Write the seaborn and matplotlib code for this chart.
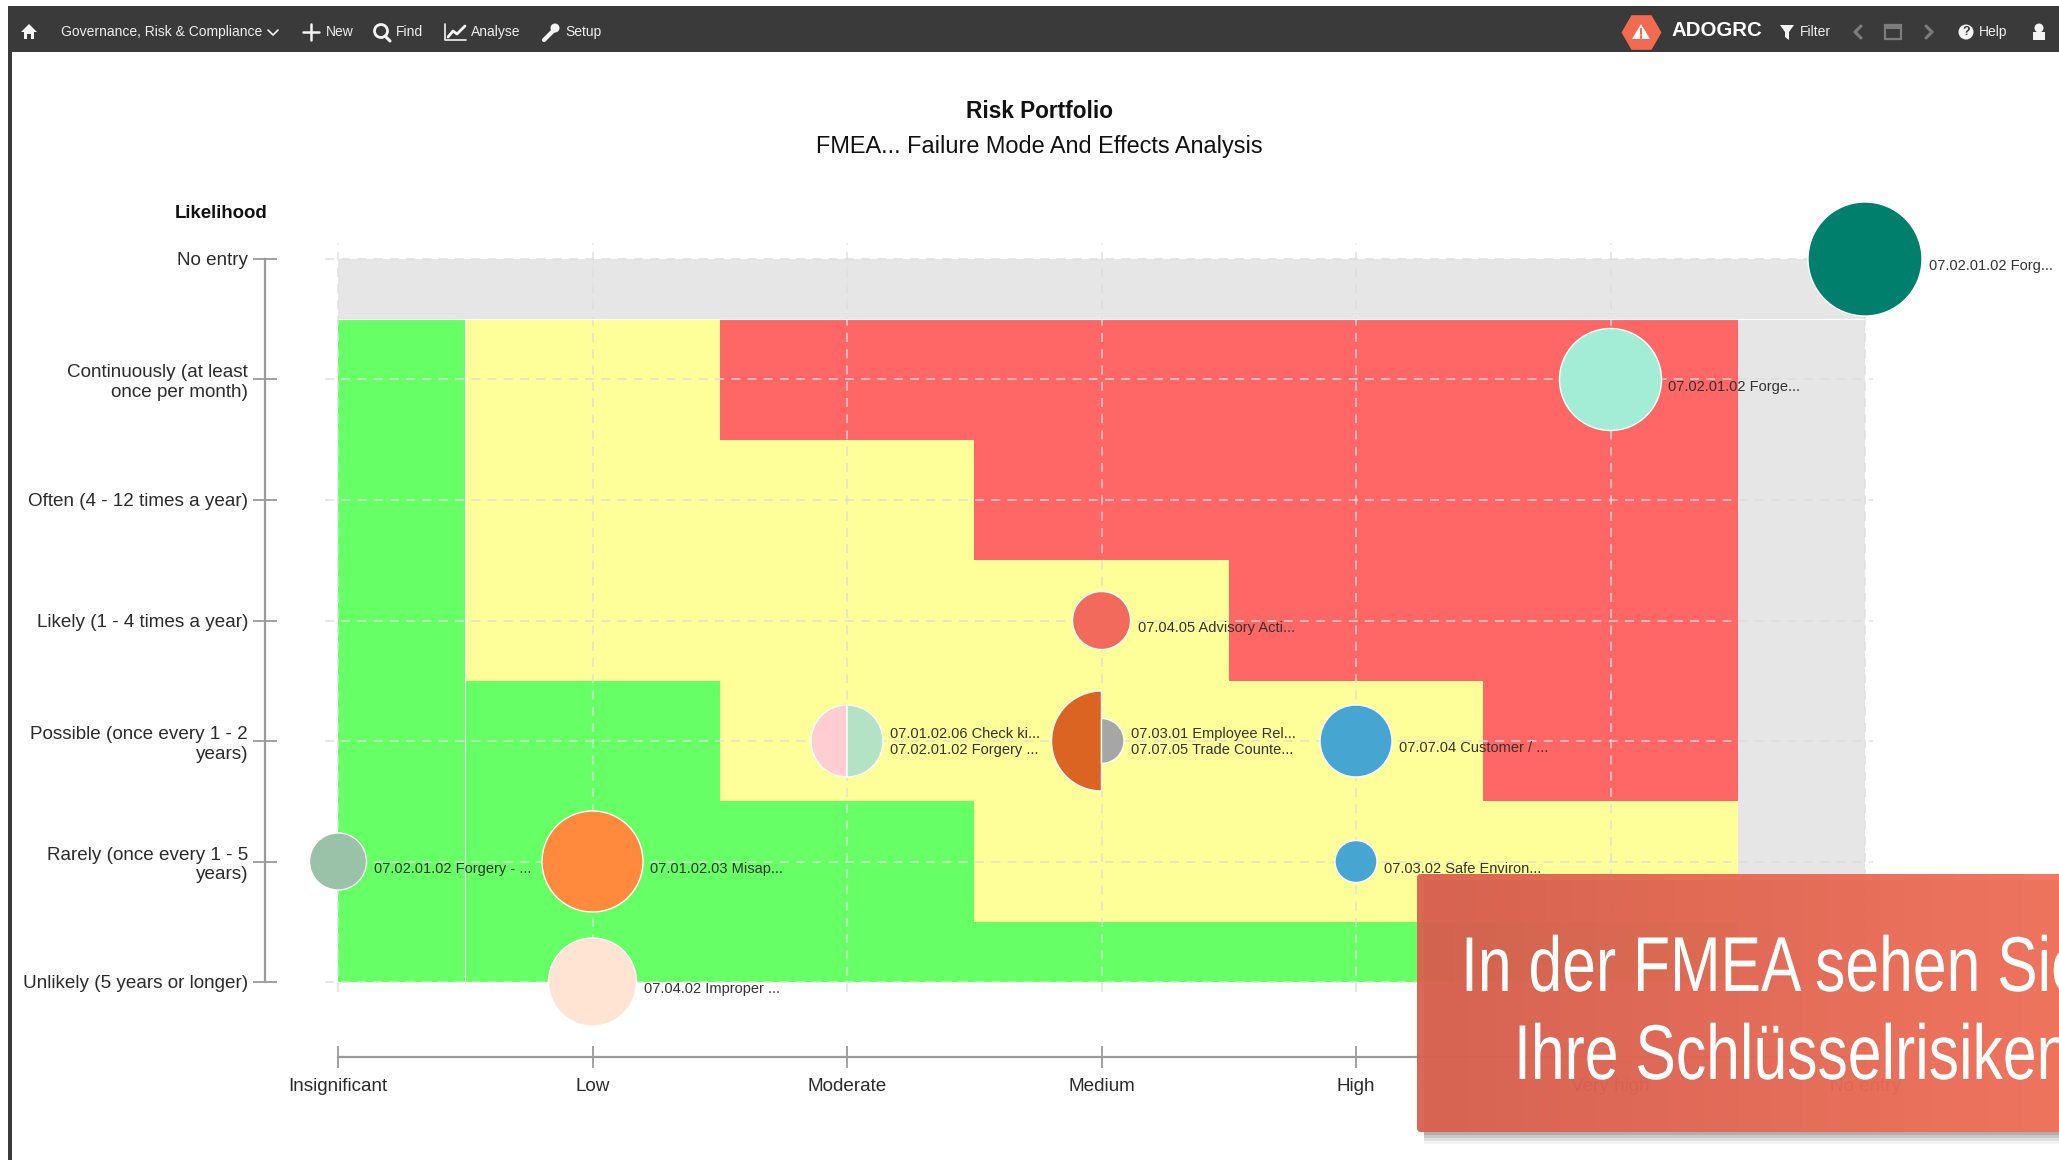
import matplotlib

matplotlib.use('Agg')
import matplotlib.pyplot as plt
import numpy as np
import pandas as pd
import seaborn as sns
from matplotlib.colors import LinearSegmentedColormap, ListedColormap
from matplotlib.markers import MarkerStyle
from matplotlib.patches import Circle, FancyBboxPatch, Polygon, Rectangle
from matplotlib.patheffects import AbstractPathEffect
from matplotlib.transforms import Affine2D

impact_names = ['Insignificant', 'Low', 'Moderate', 'Medium', 'High', 'Very high', 'No entry']
likelihood_names = ['Unlikely (5 years or longer)', 'Rarely (once every 1 - 5\nyears)',
                    'Possible (once every 1 - 2\nyears)', 'Likely (1 - 4 times a year)',
                    'Often (4 - 12 times a year)', 'Continuously (at least\nonce per month)',
                    'No entry']

# risk zones, bottom row first: 0 none, 1 green, 2 yellow, 3 red
zones = [[1, 1, 1, 1, 1, 1, 0],
         [1, 1, 1, 2, 2, 2, 0],
         [1, 1, 2, 2, 2, 3, 0],
         [1, 2, 2, 2, 3, 3, 0],
         [1, 2, 2, 3, 3, 3, 0],
         [1, 2, 3, 3, 3, 3, 0],
         [0, 0, 0, 0, 0, 0, 0]]
zone_span = [1, 2, 2, 2, 2, 2, 1]  # half steps covered by each band
zone_colors = ['#e6e6e6', '#66ff66', '#ffff99', '#ff6666']

risk_impact = [6, 5, 3, 2, 2, 3, 3, 4, 0, 1, 4, 1]
risk_likelihood = [6, 5, 3, 2, 2, 2, 2, 2, 1, 1, 1, 0]
risk_diam = [114, 102, 58, 72, 72, 100, 45, 72, 57, 101, 42, 88]
risk_half = ['full', 'full', 'full', 'left', 'right', 'left', 'right', 'full', 'full', 'full', 'full', 'full']
risk_color = ['#007f6d', '#a3edd6', '#f26a5c', '#ffcdd2', '#b4e2c4', '#dc6423', '#a6a6a6',
              '#46a6d1', '#99c2a9', '#ff8a3d', '#46a6d1', '#ffe4d4']
risk_label = ['07.02.01.02 Forg...', '07.02.01.02 Forge...', '07.04.05 Advisory Acti...',
              '07.01.02.06 Check ki...', '07.02.01.02 Forgery ...', '07.03.01 Employee Rel...',
              '07.07.05 Trade Counte...', '07.07.04 Customer / ...', '07.02.01.02 Forgery - ...',
              '07.01.02.03 Misap...', '07.03.02 Safe Environ...', '07.04.02 Improper ...']

W, H = 2059, 1160
PT = 0.72  # points per pixel at dpi 100


class Squeeze(AbstractPathEffect):
    # narrows a text around its left edge, no condensed font is installed
    def __init__(self, x0, k):
        super().__init__()
        self.x0 = x0
        self.k = k

    def draw_path(self, renderer, gc, tpath, affine, rgbFace=None):
        squeeze = Affine2D().translate(-self.x0, 0).scale(self.k, 1).translate(self.x0, 0)
        renderer.draw_path(gc, tpath, affine + squeeze, rgbFace)


sns.set_theme(style='white')
plt.rcParams['font.family'] = ['Liberation Sans', 'DejaVu Sans']
TEXT = '#2b2b2b'
AXIS = '#9a9a9a'

fig = plt.figure(figsize=(W / 100, H / 100), dpi=100, facecolor='white')
rect = [338 / W, (H - 982) / H, (1865 - 338) / W, (982 - 259) / H]

# coloured zones
hax = fig.add_axes(rect, zorder=0)
grid = np.repeat(np.repeat(np.array(zones), zone_span, axis=0), zone_span, axis=1)
sns.heatmap(grid, ax=hax, cmap=ListedColormap(zone_colors), vmin=-0.5, vmax=3.5, cbar=False)
hax.set_ylim(0, grid.shape[0])
hax.axis('off')

# bubbles and axes
ax = fig.add_axes(rect, zorder=1)
ax.patch.set_alpha(0)
ax.set_xlim(0, 6)
ax.set_ylim(0, 6)
ax.vlines(range(7), -0.08, 6.13, color='#dddddd', alpha=0.75, lw=1.3, ls=(0, (5, 4)), clip_on=False, zorder=1)
ax.hlines(range(7), -0.05, 6.03, color='#dddddd', alpha=0.75, lw=1.3, ls=(0, (5, 4)), clip_on=False, zorder=1)
ax.vlines(0.5, 0, 5.5, color='white', lw=0.8, zorder=1)
ax.hlines(5.5, 0, 6, color='white', lw=0.8, zorder=1)

df = pd.DataFrame({'impact': risk_impact, 'likelihood': risk_likelihood, 'diam': risk_diam,
                   'half': risk_half, 'label': risk_label})
df['area'] = (df['diam'] * PT) ** 2
sns.scatterplot(data=df, x='impact', y='likelihood', hue='label',
                palette=dict(zip(risk_label, risk_color)),
                size='area', sizes=(df['area'].min(), df['area'].max()),
                style='half',
                markers={'full': 'o', 'left': MarkerStyle('o', fillstyle='left'),
                         'right': MarkerStyle('o', fillstyle='right')},
                edgecolor='white', linewidth=1.0, legend=False, clip_on=False, zorder=3, ax=ax)

for (xv, yv), cell in df.groupby(['impact', 'likelihood'], sort=False):
    radius = cell['diam'].iloc[-1] / 2
    shifts = [7, -9] if len(cell) == 2 else [-7.5]
    for label, dy in zip(cell['label'], shifts):
        ax.annotate(label, (xv, yv), xytext=((radius + 7) * PT, dy * PT), textcoords='offset points',
                    fontsize=10.5, color='#333333', va='center', ha='left',
                    annotation_clip=False, zorder=4)

ax.set_xlabel('')
ax.set_ylabel('')
ax.set_xticks(range(7), impact_names)
ax.set_yticks(range(7), likelihood_names, ha='right', ma='right', linespacing=0.82)
ax.tick_params(axis='x', bottom=True, direction='inout', length=22 * PT, width=1.3, color=AXIS,
               labelsize=13.6, labelcolor=TEXT, pad=10 * PT)
ax.tick_params(axis='y', left=True, direction='inout', length=24 * PT, width=1.3, color=AXIS,
               labelsize=13.6, labelcolor=TEXT, pad=5 * PT)
for side in ['top', 'right']:
    ax.spines[side].set_visible(False)
ax.spines['left'].set_position(('outward', (338 - 265) * PT))
ax.spines['bottom'].set_position(('outward', (1057 - 982) * PT))
for side in ['left', 'bottom']:
    ax.spines[side].set_color(AXIS)
    ax.spines[side].set_linewidth(1.6)
    ax.spines[side].set_bounds(0, 6)

# page chrome, in pixel coordinates
top = fig.add_axes([0, 0, 1, 1], zorder=5)
top.patch.set_alpha(0)
top.axis('off')

top.text(1039, 112, 'Risk Portfolio', fontsize=16.3, fontweight='bold', color='#111111', ha='center', va='center')
top.text(1039, 147, 'FMEA... Failure Mode And Effects Analysis', fontsize=16.9, color='#111111', ha='center', va='center')
top.text(221, 213, 'Likelihood', fontsize=13.4, fontweight='bold', color='#111111', ha='center', va='center')

top.add_patch(Rectangle((8, 6), W, 46, color='#3a3a3a', lw=0))
top.add_patch(Rectangle((8, 6), 4, H, color='#3a3a3a', lw=0))
for px, txt in [(61, 'Governance, Risk & Compliance'), (326, 'New'), (396, 'Find'),
                (471, 'Analyse'), (565, 'Setup'), (1800, 'Filter'), (1979, 'Help')]:
    top.text(px, 32, txt, fontsize=10, color='#eeeeee', va='center')

# toolbar icons
ICON = '#f4f4f4'
DIM = '#7c7c7c'
top.add_patch(Polygon([(21, 32), (29, 24), (37, 32), (34, 32), (34, 39), (31, 39), (31, 34), (27, 34),
                       (27, 39), (24, 39), (24, 32)], color=ICON, lw=0))
top.plot([268, 273, 278], [30, 35, 30], color=ICON, lw=1.2)
top.plot([303, 319], [32, 32], color=ICON, lw=1.8)
top.plot([311, 311], [24, 40], color=ICON, lw=1.8)
top.add_patch(Circle((381, 31), 6.5, fill=False, ec=ICON, lw=2))
top.plot([385, 390], [36, 41], color=ICON, lw=2.2)
top.plot([445, 445, 466], [24, 40, 40], color=ICON, lw=1.2)
top.plot([448, 453, 457, 465], [37, 31, 34, 26], color=ICON, lw=2)
top.plot([544, 554], [40, 30], color=ICON, lw=3)
top.add_patch(Circle((555, 28), 4.5, color=ICON, lw=0))
top.add_patch(Polygon([(1780, 25), (1794, 25), (1789, 32), (1789, 40), (1785, 37), (1785, 32)], color=ICON, lw=0))
top.plot([1861, 1855, 1861], [26, 32, 38], color=DIM, lw=2.2)
top.plot([1926, 1932, 1926], [26, 32, 38], color=DIM, lw=2.2)
top.add_patch(Rectangle((1885, 25), 16, 14, fill=False, ec=DIM, lw=1.6))
top.add_patch(Rectangle((1885, 25), 16, 4, color=DIM, lw=0))
top.add_patch(Circle((1966, 32), 7.5, color=ICON, lw=0))
top.text(1966, 32, '?', fontsize=9, fontweight='bold', color='#3a3a3a', ha='center', va='center')
top.add_patch(Circle((2039, 28), 4.5, color=ICON, lw=0))
top.add_patch(Rectangle((2033, 32), 12, 8, color=ICON, lw=0))

# logo
top.scatter([1641], [32], marker='H', s=(40 * PT) ** 2, color='#f26a50', lw=0)
top.add_patch(Polygon([(1641, 24), (1650, 39), (1632, 39)], color='white', lw=0))
top.plot([1641, 1641], [29, 34], color='#f26a50', lw=1.5)
top.plot([1641, 1641], [35.5, 37.5], color='#f26a50', lw=1.5)
top.text(1671, 31, 'ADOGRC', fontsize=14.7, fontweight='bold', color='white', va='center')

# callout box with shadow
for grow, alpha in [(12, 0.05), (9, 0.08), (6, 0.1), (3, 0.12)]:
    top.add_patch(Rectangle((1424, 880), W, 252 + grow, color='black', alpha=alpha, lw=0))
ramp = LinearSegmentedColormap.from_list('box', ['#d9604f', '#f2725a'])
img = top.imshow(np.linspace(0, 1, 256).reshape(1, -1), cmap=ramp, extent=(1417, 2059, 1132, 874),
                 aspect='auto', alpha=0.96, zorder=2)
img.set_clip_path(FancyBboxPatch((1417, 874), 800, 258, boxstyle='round,pad=0,rounding_size=4',
                                 transform=top.transData))
top.text(1461, 991, 'In der FMEA sehen Sie', fontsize=56, color='white', va='baseline', zorder=3,
         path_effects=[Squeeze(1461, 0.78)])
top.text(1514, 1079, 'Ihre Schlüsselrisiken', fontsize=56, color='white', va='baseline', zorder=3,
         path_effects=[Squeeze(1514, 0.78)])

top.set_xlim(0, W)
top.set_ylim(H, 0)

plt.savefig('out.png', dpi=100)
